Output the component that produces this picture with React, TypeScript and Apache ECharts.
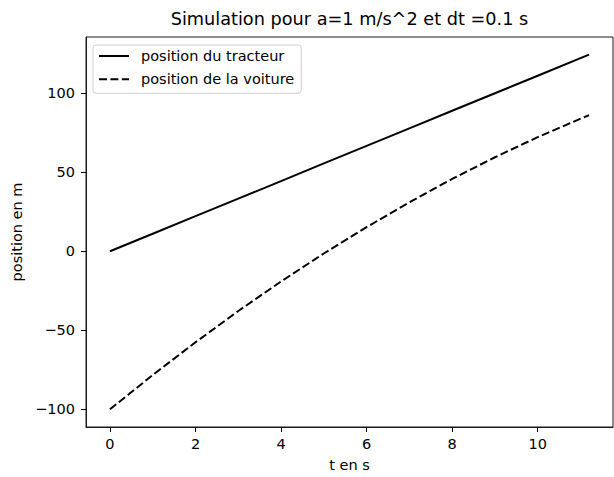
import React, { useEffect, useRef } from 'react';
import * as echarts from 'echarts';

const timeValues = [0, 1, 2, 3, 4, 5, 6, 7, 8, 9, 10, 11, 11.2];
const tractorPositions = [0, 11.1, 22.2, 33.3, 44.4, 55.6, 66.7, 77.8, 88.9, 100, 111.1, 122.2, 124.4];
const carPositions = [-100, -78.3, -57.6, -37.8, -19.1, -1.4, 15.3, 31.0, 45.8, 59.5, 72.2, 83.9, 86.2];
const xTicks = [0, 2, 4, 6, 8, 10];
const yTicks = [-100, -50, 0, 50, 100];

const titleText = 'Simulation pour a=1 m/s^2 et dt =0.1 s';
const xName = 't en s';
const yName = 'position en m';
const tractorName = 'position du tracteur';
const carName = 'position de la voiture';

const FONT = 'DejaVu Sans';
const FS = 14.5;

const fmt = (v: number) => (v < 0 ? '\u2212' + Math.abs(v) : String(v));

export default function App() {
  const ref = useRef<HTMLDivElement>(null);
  useEffect(() => {
    if (!ref.current) return;
    const chart = echarts.init(ref.current, undefined, { renderer: 'svg' });
    const tractor = timeValues.map((t, i) => [t, tractorPositions[i]]);
    const car = timeValues.map((t, i) => [t, carPositions[i]]);
    chart.setOption({
      animation: false,
      backgroundColor: '#fff',
      textStyle: { fontFamily: FONT },
      title: {
        text: titleText,
        left: 349.5,
        textAlign: 'center',
        top: 8,
        padding: 0,
        textStyle: { fontFamily: FONT, fontSize: 17.7, fontWeight: 'normal', color: '#000', lineHeight: 22 },
      },
      grid: {
        left: 86,
        top: 37,
        right: 1,
        bottom: 46,
        show: true,
        borderColor: '#1a1a1a',
        borderWidth: 1,
        backgroundColor: 'transparent',
      },
      legend: {
        orient: 'vertical',
        left: 93,
        top: 45,
        padding: [3, 7, 6, 5],
        itemWidth: 30,
        itemHeight: 14,
        itemGap: 7.3,
        backgroundColor: 'rgba(255,255,255,0.8)',
        borderColor: '#d0d0d0',
        borderWidth: 1,
        borderRadius: 3,
        itemStyle: { opacity: 0 },
        textStyle: { fontFamily: FONT, fontSize: FS, color: '#000', padding: [0, 0, 0, 7], lineHeight: 16 },
        data: [tractorName, carName],
      },
      xAxis: {
        type: 'value',
        min: -0.56,
        max: 11.76,
        name: xName,
        nameLocation: 'middle',
        nameGap: 30,
        nameTextStyle: { fontFamily: FONT, fontSize: FS, color: '#000' },
        splitLine: { show: false },
        axisLine: { show: true, onZero: false, lineStyle: { color: '#1a1a1a', width: 1 } },
        axisTick: { show: true, length: 5, lineStyle: { color: '#000', width: 1 }, customValues: xTicks },
        axisLabel: { fontFamily: FONT, fontSize: FS, color: '#000', margin: 9, customValues: xTicks, formatter: (v: number) => fmt(v) },
      },
      yAxis: {
        type: 'value',
        min: -111.2,
        max: 135.6,
        name: yName,
        nameLocation: 'middle',
        nameGap: 52,
        nameRotate: 90,
        nameTextStyle: { fontFamily: FONT, fontSize: FS, color: '#000' },
        splitLine: { show: false },
        axisLine: { show: true, onZero: false, lineStyle: { color: '#1a1a1a', width: 1 } },
        axisTick: { show: true, length: 5, lineStyle: { color: '#000', width: 1 }, customValues: yTicks },
        axisLabel: { fontFamily: FONT, fontSize: FS, color: '#000', margin: 11, customValues: yTicks, formatter: (v: number) => fmt(v) },
      },
      series: [
        {
          name: tractorName,
          type: 'line',
          data: tractor,
          symbol: 'none',
          lineStyle: { color: '#000', width: 2, type: 'solid' },
          itemStyle: { color: '#000' },
        },
        {
          name: carName,
          type: 'line',
          data: car,
          symbol: 'none',
          lineStyle: { color: '#000', width: 2, type: [8, 3.4] },
          itemStyle: { color: '#000' },
        },
      ],
    });
    return () => chart.dispose();
  }, []);
  return (
    <div
      ref={ref}
      style={{ position: 'absolute', left: 0, top: 0, width: 614, height: 477 }}
    />
  );
}
